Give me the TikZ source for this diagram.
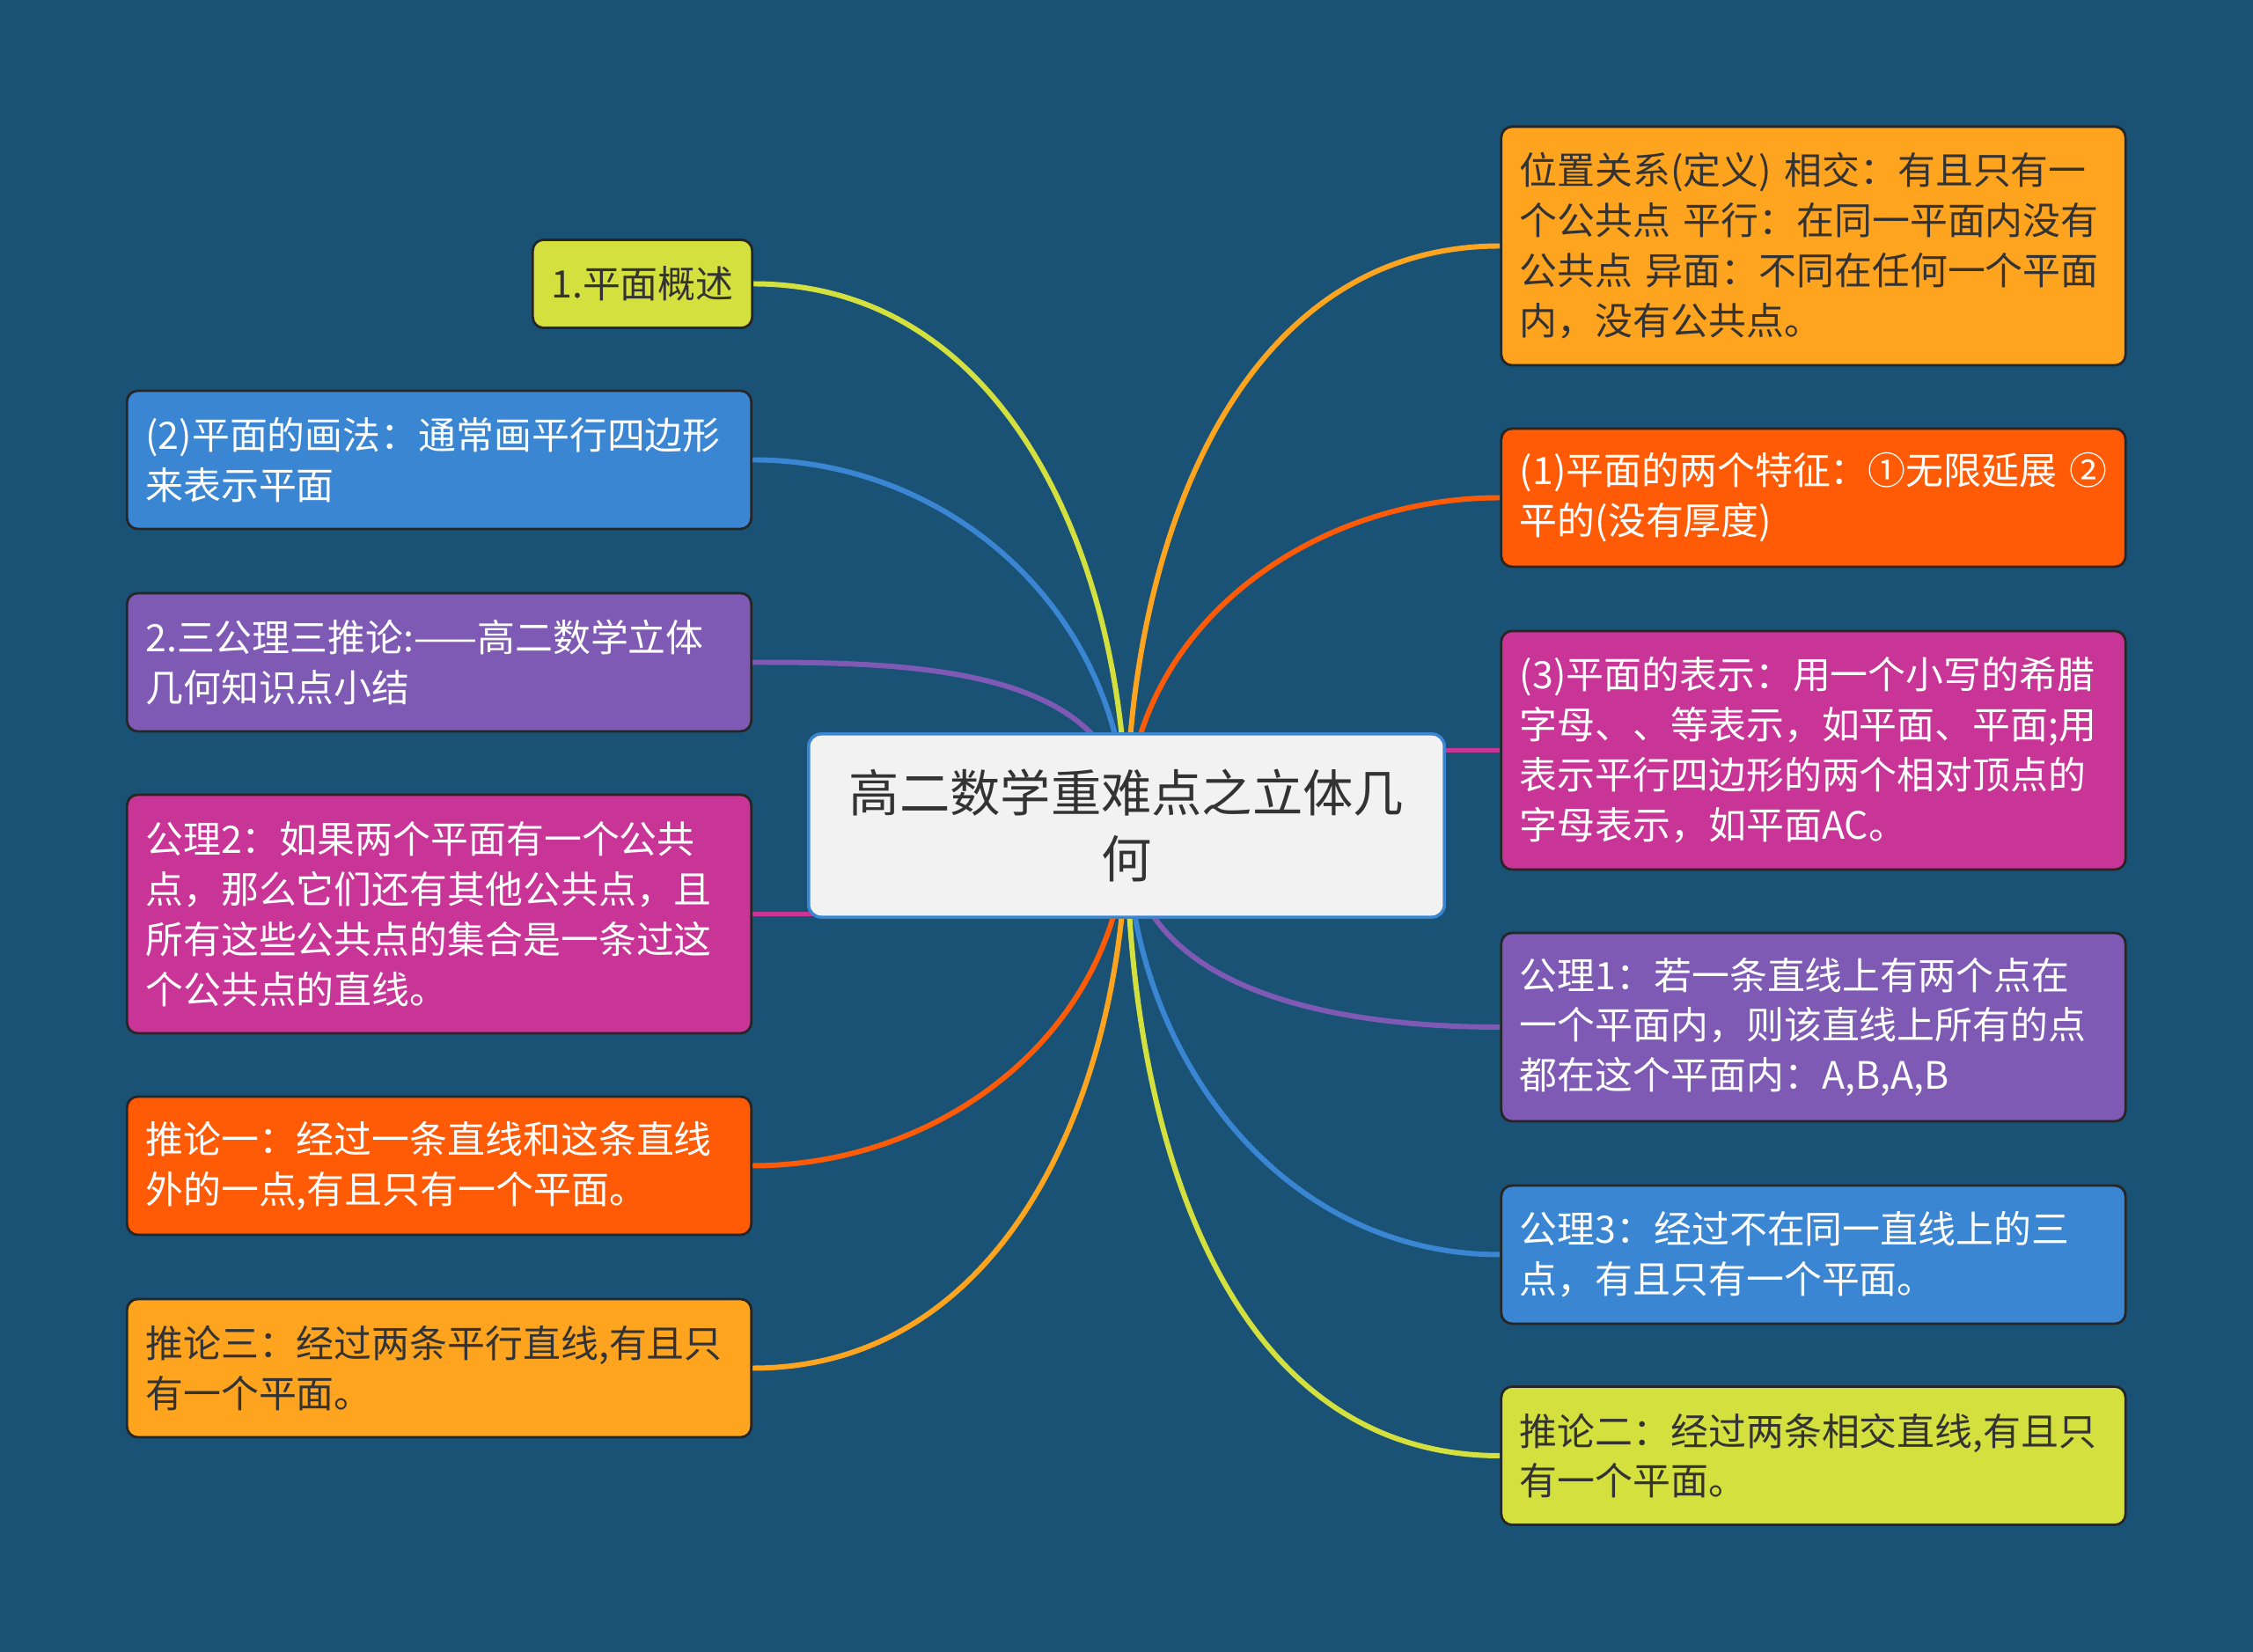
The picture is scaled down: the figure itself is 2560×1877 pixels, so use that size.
\documentclass[tikz,border=0pt]{standalone}
\usepackage{fontspec}
\setmainfont{Noto Sans CJK SC}
\definecolor{bgblue}{HTML}{1A5276}
\definecolor{cyel}{HTML}{D4E03D}
\definecolor{cblue}{HTML}{3A86D2}
\definecolor{cpurp}{HTML}{7E5AB4}
\definecolor{cmag}{HTML}{C93497}
\definecolor{cred}{HTML}{FF5A05}
\definecolor{corg}{HTML}{FFA41E}
\definecolor{ink}{HTML}{333333}
\pgfdeclarelayer{back}
\pgfdeclarelayer{edges}
\pgfsetlayers{back,edges,main}

\begin{document}
\begin{tikzpicture}[x=0.01cm, y=0.01cm,
    topic/.style={fill=black!5, draw=cblue, line width=1pt, rounded corners=4pt,
      minimum width=7.22cm, minimum height=2.08cm, align=center, text=ink,
      font=\fontsize{16.3}{21.3}\selectfont},
    leaf/.style={fill=#1, draw=black!85, line width=0.8pt, rounded corners=3.5pt,
      text width=6.67cm, inner xsep=0.21cm, align=left, text=white,
      font=\fontsize{12.2}{16.2}\selectfont},
    lines/.style={minimum height=#1*0.57cm+0.43cm},
    dark/.style={text=ink},
    link/.style={line width=1.7pt}]
  % canvas
  \begin{pgfonlayer}{back}
    \fill[bgblue] (0,0) rectangle (2560,-1877);
  \end{pgfonlayer}
  \useasboundingbox (0,0) rectangle (2560,-1877);

  % central topic
  \node[topic] (root) at (1280,-938) {高二数学重难点之立体几\\何};

  % left branches
  \node[leaf=cyel, dark, lines=1, text width={}, minimum width=2.48cm, align=center]
    (l1) at (730,-322.5) {1.平面概述};
  \node[leaf=cblue, lines=2] (l2) at (499,-522.5)
    {(2)平面的画法：通常画平行四边形\\来表示平面};
  \node[leaf=cpurp, lines=2] (l3) at (499,-752.5)
    {2.三公理三推论:——高二数学立体\\几何知识点小结};
  \node[leaf=cmag, lines=4] (l4) at (499,-1038.5)
    {公理2：如果两个平面有一个公共\\点，那么它们还有其他公共点，且\\所有这些公共点的集合是一条过这\\个公共点的直线。};
  \node[leaf=cred, lines=2] (l5) at (499,-1324.5)
    {推论一：经过一条直线和这条直线\\外的一点,有且只有一个平面。};
  \node[leaf=corg, dark, lines=2] (l6) at (499,-1554.5)
    {推论三：经过两条平行直线,有且只\\有一个平面。};

  % right branches
  \node[leaf=corg, dark, lines=4] (r1) at (2060.5,-279.5)
    {位置关系(定义) 相交：有且只有一\\个公共点 平行：在同一平面内没有\\公共点 异面：不同在任何一个平面\\内，没有公共点。};
  \node[leaf=cred, lines=2] (r2) at (2060.5,-565.5)
    {(1)平面的两个特征：①无限延展~②\\平的(没有厚度)};
  \node[leaf=cmag, lines=4] (r3) at (2060.5,-852.5)
    {(3)平面的表示：用一个小写的希腊\\字母、、等表示，如平面、平面;用\\表示平行四边形的两个相对顶点的\\字母表示，如平面AC。};
  \node[leaf=cpurp, lines=3] (r4) at (2060.5,-1167)
    {公理1：若一条直线上有两个点在\\一个平面内，则该直线上所有的点\\都在这个平面内：A,B,A,B};
  \node[leaf=cblue, lines=2] (r5) at (2060.5,-1425.5)
    {公理3：经过不在同一直线上的三\\点，有且只有一个平面。};
  \node[leaf=cyel, dark, lines=2] (r6) at (2060.5,-1654)
    {推论二：经过两条相交直线,有且只\\有一个平面。};

  % connectors
  \begin{pgfonlayer}{edges}
    \foreach \n/\a/\o/\i/\c in {l1/east/90/0/cyel, l2/east/90/0/cblue,
        l3/east/90/0/cpurp, l5/east/-90/0/cred, l6/east/-90/0/corg,
        r1/west/90/180/corg, r2/west/90/180/cred, r4/west/-90/180/cpurp,
        r5/west/-90/180/cblue, r6/west/-90/180/cyel}
      \draw[link, draw=\c] (root.center) to[out=\o, in=\i] (\n.\a);
    % the two level ones run straight into the topic
    \draw[link, cmag] (l4.east) -- (l4.east -| root.center);
    \draw[link, cmag] (r3.west) -- (r3.west -| root.center);
  \end{pgfonlayer}
\end{tikzpicture}
\end{document}
